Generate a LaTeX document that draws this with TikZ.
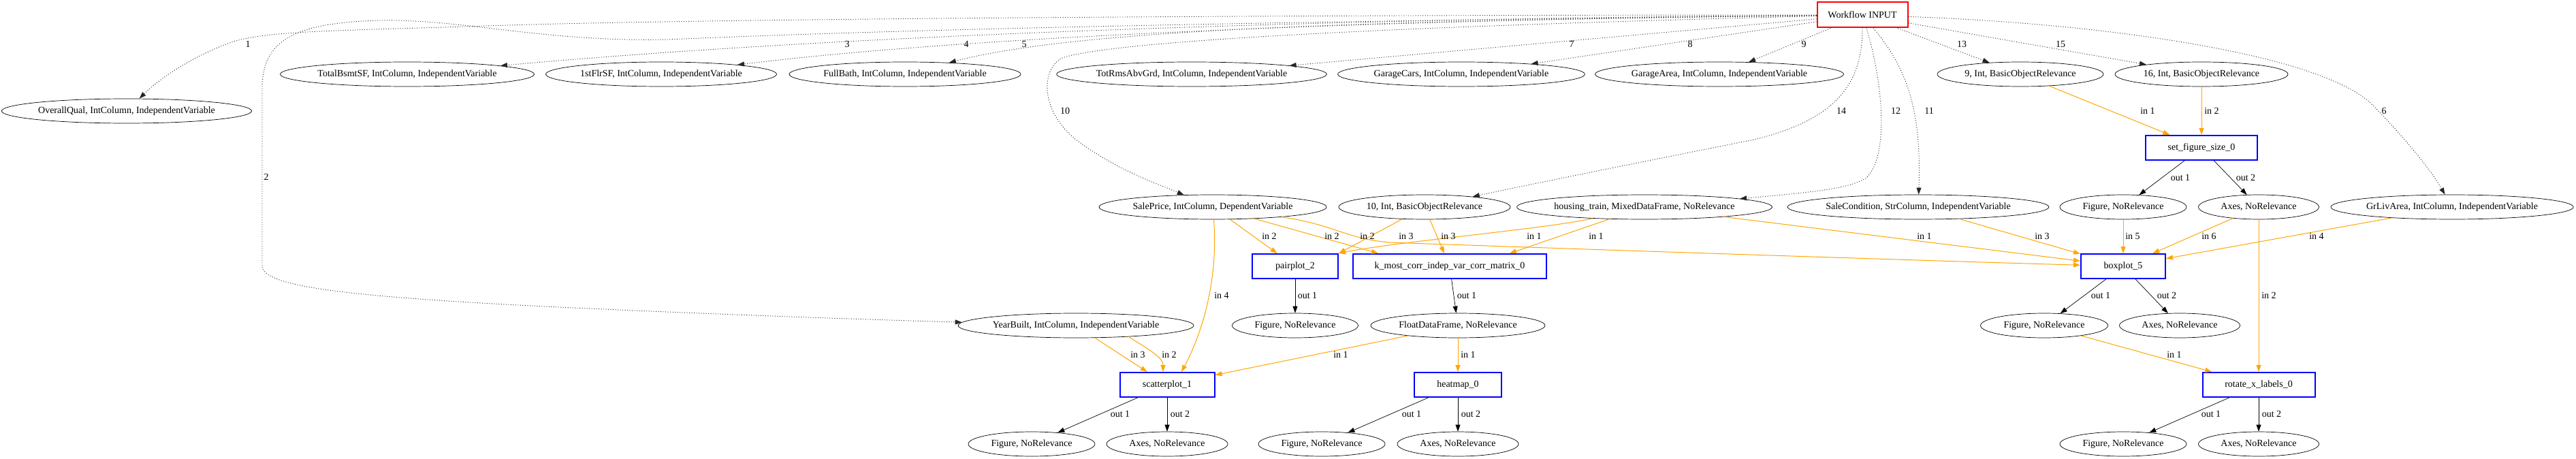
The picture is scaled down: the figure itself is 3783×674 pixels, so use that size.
\documentclass[tikz,border=0pt]{standalone}
\usepackage{fontspec}
\setmainfont{Liberation Serif}
\usetikzlibrary{arrows.meta,shapes.geometric}
\definecolor{gvorange}{RGB}{255,165,0}
\definecolor{gvblue}{RGB}{0,0,255}
\definecolor{gvred}{RGB}{255,0,0}
\begin{document}
\begin{tikzpicture}[x=1pt,y=-1pt,
  every node/.style={font=\fontsize{14pt}{16pt}\selectfont},
  ell/.style={draw=black, line width=0.7pt, ellipse, inner sep=0pt, minimum height=36pt},
  fbox/.style={draw=gvblue, line width=2pt, rectangle, inner sep=0pt, minimum height=36pt},
  inbox/.style={draw=gvred, line width=2pt, rectangle, inner sep=0pt, minimum height=37pt, minimum width=133pt},
  lbl/.style={inner sep=0pt},
  dotedge/.style={draw=black!85, line width=0.9pt, dash pattern=on 1pt off 2.5pt, -{Triangle[length=10pt,width=7pt]}},
  inedge/.style={draw=gvorange, line width=1pt, -{Triangle[length=10pt,width=7pt]}},
  outedge/.style={draw=black, line width=0.7pt, -{Triangle[length=10pt,width=7pt]}},
]
\useasboundingbox (0,0) rectangle (3783,674);

% nodes
\node[inbox] (wf) at (2735,22) {Workflow INPUT};
\node[ell, minimum width=367pt] (oq) at (186,163) {OverallQual, IntColumn, IndependentVariable};
\node[ell, minimum width=373pt] (tb) at (598,109) {TotalBsmtSF, IntColumn, IndependentVariable};
\node[ell, minimum width=339pt] (fs) at (971,109) {1stFlrSF, IntColumn, IndependentVariable};
\node[ell, minimum width=340pt] (fb) at (1329,109) {FullBath, IntColumn, IndependentVariable};
\node[ell, minimum width=393pt] (tr) at (1750,109) {TotRmsAbvGrd, IntColumn, IndependentVariable};
\node[ell, minimum width=361pt] (gc) at (2146,109) {GarageCars, IntColumn, IndependentVariable};
\node[ell, minimum width=362pt] (ga) at (2525,109) {GarageArea, IntColumn, IndependentVariable};
\node[ell, minimum width=244pt] (n9) at (2967,109) {9, Int, BasicObjectRelevance};
\node[ell, minimum width=254pt] (n16) at (3233,109) {16, Int, BasicObjectRelevance};
\node[fbox, minimum width=164pt] (sfs) at (3233,217) {set\_figure\_size\_0};
\node[ell, minimum width=334pt] (sp) at (1781,304) {SalePrice, IntColumn, DependentVariable};
\node[ell, minimum width=252pt] (n10) at (2092,304) {10, Int, BasicObjectRelevance};
\node[ell, minimum width=358pt] (ht) at (2415,304) {housing\_train, MixedDataFrame, NoRelevance};
\node[ell, minimum width=378pt] (scd) at (2817,304) {SaleCondition, StrColumn, IndependentVariable};
\node[ell, minimum width=186pt] (f1) at (3118,304) {Figure, NoRelevance};
\node[ell, minimum width=177pt] (a1) at (3317,304) {Axes, NoRelevance};
\node[ell, minimum width=355pt] (gl) at (3601,304) {GrLivArea, IntColumn, IndependentVariable};
\node[fbox, minimum width=126pt] (pp) at (1902,391) {pairplot\_2};
\node[fbox, minimum width=284pt] (km) at (2129,391) {k\_most\_corr\_indep\_var\_corr\_matrix\_0};
\node[fbox, minimum width=124pt] (bp) at (3118,391) {boxplot\_5};
\node[ell, minimum width=346pt] (yb) at (1580,478) {YearBuilt, IntColumn, IndependentVariable};
\node[ell, minimum width=185pt] (fpp) at (1902,478) {Figure, NoRelevance};
\node[ell, minimum width=256pt] (fd) at (2141,478) {FloatDataFrame, NoRelevance};
\node[ell, minimum width=187pt] (fbp) at (3002,478) {Figure, NoRelevance};
\node[ell, minimum width=177pt] (abp) at (3201,478) {Axes, NoRelevance};
\node[fbox, minimum width=139pt] (sc1) at (1714,565) {scatterplot\_1};
\node[fbox, minimum width=128pt] (hm) at (2141,565) {heatmap\_0};
\node[fbox, minimum width=165pt] (rx) at (3317,565) {rotate\_x\_labels\_0};
\node[ell, minimum width=186pt] (fsc) at (1515,652) {Figure, NoRelevance};
\node[ell, minimum width=178pt] (asc) at (1714,652) {Axes, NoRelevance};
\node[ell, minimum width=186pt] (fhm) at (1941,652) {Figure, NoRelevance};
\node[ell, minimum width=178pt] (ahm) at (2141,652) {Axes, NoRelevance};
\node[ell, minimum width=186pt] (frx) at (3118,652) {Figure, NoRelevance};
\node[ell, minimum width=177pt] (arx) at (3317,652) {Axes, NoRelevance};

% dotted input edges
\draw[dotedge] (wf) .. controls (1800,22) and (1000,28) .. (715,38) .. controls (500,45) and (390,45) .. (340,62) .. controls (290,80) and (240,110) .. (oq);
\draw[dotedge] (wf) .. controls (2000,30) and (1400,40) .. (980,58) .. controls (800,62) and (680,28) .. (560,30) .. controls (430,33) and (385,60) .. (385,130) -- (385,390) .. controls (385,420) and (500,435) .. (800,450) .. controls (1050,462) and (1300,470) .. (yb);
\draw[dotedge] (wf) .. controls (2100,26) and (1300,45) .. (tb);
\draw[dotedge] (wf) .. controls (2100,28) and (1450,50) .. (fs);
\draw[dotedge] (wf) .. controls (2100,30) and (1600,38) .. (fb);
\draw[dotedge] (wf) .. controls (3100,35) and (3400,80) .. (3480,150) .. controls (3530,200) and (3570,250) .. (gl);
\draw[dotedge] (wf) -- (tr);
\draw[dotedge] (wf) -- (gc);
\draw[dotedge] (wf) -- (ga);
\draw[dotedge] (wf) .. controls (2200,35) and (1650,55) .. (1560,85) .. controls (1530,100) and (1525,160) .. (1580,205) .. controls (1640,250) and (1700,270) .. (sp);
\draw[dotedge] (wf) .. controls (2800,100) and (2822,160) .. (scd);
\draw[dotedge] (wf) .. controls (2765,120) and (2775,230) .. (2740,262) .. controls (2715,275) and (2690,280) .. (ht);
\draw[dotedge] (wf) -- (n9);
\draw[dotedge] (wf) .. controls (2735,120) and (2700,175) .. (2576,205) .. controls (2400,240) and (2250,270) .. (n10);
\draw[dotedge] (wf) -- (n16);

% labels of dotted edges
\node[lbl] (t1) at (364,65) {1};
\node[lbl] (t2) at (391,260) {2};
\node[lbl] (t3) at (1244,65) {3};
\node[lbl] (t4) at (1419,65) {4};
\node[lbl] (t5) at (1504,65) {5};
\node[lbl] (t6) at (3501,163) {6};
\node[lbl] (t7) at (2308,65) {7};
\node[lbl] (t8) at (2482,65) {8};
\node[lbl] (t9) at (2649,65) {9};
\node[lbl] (t10) at (1564,163) {10};
\node[lbl] (t11) at (2833,163) {11};
\node[lbl] (t12) at (2784,163) {12};
\node[lbl] (t13) at (2881,65) {13};
\node[lbl] (t14) at (2704,163) {14};
\node[lbl] (t15) at (3026,65) {15};

% solid edges
\draw[inedge] (n9) -- (sfs);
\draw[inedge] (n16) -- (sfs);
\draw[outedge] (sfs) -- (f1);
\draw[outedge] (sfs) -- (a1);
\draw[inedge] (f1) -- (bp);
\draw[inedge] (a1) -- (bp);
\draw[inedge] (gl) -- (bp);
\draw[inedge] (scd) -- (bp);
\draw[inedge] (ht) -- (bp);
\draw[inedge] (sp) .. controls (1960,330) and (1975,350) .. (2040,356) .. controls (2500,372) and (2900,385) .. (bp);
\draw[inedge] (a1) -- (rx);
\draw[inedge] (sp) -- (pp);
\draw[inedge] (sp) -- ([xshift=-105pt]km.north);
\draw[inedge] (n10) -- (pp.north east);
\draw[inedge] (n10) -- (km);
\draw[inedge] (ht) .. controls (2270,336) and (2050,355) .. (pp.north east);
\draw[inedge] (ht) -- ([xshift=88pt]km.north);
\draw[outedge] (pp) -- (fpp);
\draw[outedge] (km) -- (fd);
\draw[inedge] (sp) .. controls (1790,420) and (1760,500) .. ([xshift=21pt]sc1.north);
\draw[inedge] (yb) -- (sc1);
\draw[inedge] (yb.-12) .. controls (1690,515) and (1708,525) .. ([xshift=-6pt]sc1.north);
\draw[inedge] (fd) -- (sc1);
\draw[inedge] (fd) -- (hm);
\draw[outedge] (sc1) -- (fsc);
\draw[outedge] (sc1) -- (asc);
\draw[outedge] (hm) -- (fhm);
\draw[outedge] (hm) -- (ahm);
\draw[outedge] (bp) -- (fbp);
\draw[outedge] (bp) -- (abp);
\draw[inedge] (fbp) -- (rx);
\draw[outedge] (rx) -- (frx);
\draw[outedge] (rx) -- (arx);

% labels of solid edges
\node[lbl] (e1) at (3154,163) {in 1};
\node[lbl] (e2) at (3248,163) {in 2};
\node[lbl] (e3) at (3202,261) {out 1};
\node[lbl] (e4) at (3298,261) {out 2};
\node[lbl] (e5) at (1864,347) {in 2};
\node[lbl] (e6) at (1956,347) {in 2};
\node[lbl] (e7) at (2008,347) {in 2};
\node[lbl] (e8) at (2065,347) {in 3};
\node[lbl] (e9) at (2127,347) {in 3};
\node[lbl] (e10) at (2253,347) {in 1};
\node[lbl] (e11) at (2344,347) {in 1};
\node[lbl] (e12) at (2826,347) {in 1};
\node[lbl] (e13) at (2999,347) {in 3};
\node[lbl] (e14) at (3132,347) {in 5};
\node[lbl] (e15) at (3244,347) {in 6};
\node[lbl] (e16) at (3402,347) {in 4};
\node[lbl] (e17) at (1794,434) {in 4};
\node[lbl] (e18) at (1920,434) {out 1};
\node[lbl] (e19) at (2154,434) {out 1};
\node[lbl] (e20) at (3085,434) {out 1};
\node[lbl] (e21) at (3182,434) {out 2};
\node[lbl] (e22) at (3332,434) {in 2};
\node[lbl] (e23) at (1671,521) {in 3};
\node[lbl] (e24) at (1717,521) {in 2};
\node[lbl] (e25) at (1969,521) {in 1};
\node[lbl] (e26) at (2156,521) {in 1};
\node[lbl] (e27) at (3193,521) {in 1};
\node[lbl] (e28) at (1645,608) {out 1};
\node[lbl] (e29) at (1733,608) {out 2};
\node[lbl] (e30) at (2073,608) {out 1};
\node[lbl] (e31) at (2160,608) {out 2};
\node[lbl] (e32) at (3247,608) {out 1};
\node[lbl] (e33) at (3336,608) {out 2};
\end{tikzpicture}
\end{document}
